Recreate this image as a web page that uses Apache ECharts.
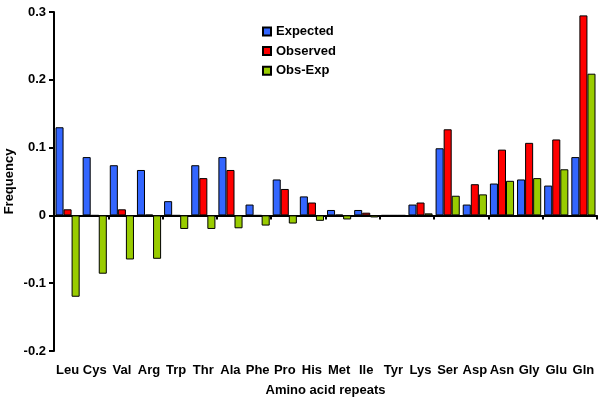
<!DOCTYPE html>
<html>
<head>
<meta charset="utf-8">
<script src="https://cdn.jsdelivr.net/npm/echarts@6/dist/echarts.min.js"></script>
<style>html,body{margin:0;padding:0;background:#fff;}#c{width:600px;height:402px;}</style>
</head>
<body>
<div id="c"></div>
<script>
var categories = ['Leu','Cys','Val','Arg','Trp','Thr','Ala','Phe','Pro','His','Met','Ile','Tyr','Lys','Ser','Asp','Asn','Gly','Glu','Gln'];
var expected = [0.130,0.086,0.074,0.067,0.021,0.074,0.086,0.016,0.053,0.028,0.008,0.008,0.000,0.016,0.099,0.016,0.047,0.053,0.044,0.086];
var observed = [0.009,0.000,0.009,0.001,0.000,0.055,0.067,0.000,0.039,0.019,0.001,0.004,0.000,0.019,0.127,0.046,0.097,0.107,0.112,0.295];
var obsExp   = [-0.120,-0.086,-0.065,-0.064,-0.020,-0.020,-0.019,-0.015,-0.012,-0.008,-0.006,-0.003,0.000,0.003,0.029,0.031,0.051,0.055,0.068,0.209];
var yTicks = {min:-0.2, max:0.3, interval:0.1};

var FONT = "'Liberation Sans', Arial, sans-serif";
var chart = echarts.init(document.getElementById('c'), null, {renderer:'canvas'});
function bar(name, data, color){
  return {name:name, type:'bar', data:data, xAxisIndex:0, yAxisIndex:0,
    barGap:'0%', barCategoryGap:'11%',
    itemStyle:{color:color, borderColor:'#000', borderWidth:1},
    emphasis:{disabled:true}};
}
chart.setOption({
  animation:false,
  backgroundColor:'#fff',
  grid:{left:54, right:3, top:12, bottom:51, containLabel:false, outerBoundsMode:'none'},
  legend:{orient:'vertical', left:257, top:20, itemWidth:8, itemHeight:8, itemGap:6.6,
    icon:'rect', selectedMode:false,
    textStyle:{fontFamily:FONT, fontWeight:'bold', fontSize:13, color:'#000'},
    data:['Expected','Observed','Obs-Exp']},
  xAxis:[
    {type:'category', data:categories, position:'bottom',
     axisLine:{onZero:true, lineStyle:{color:'#000', width:2}},
     axisTick:{show:true, length:4, lineStyle:{color:'#000', width:2}},
     axisLabel:{show:false}, splitLine:{show:false}},
    {type:'category', data:categories, position:'bottom', gridIndex:0,
     axisLine:{show:false, onZero:false}, axisTick:{show:false},
     axisLabel:{show:true, margin:13, fontFamily:FONT, fontWeight:'bold', fontSize:13, color:'#000', interval:0},
     name:'Amino acid repeats', nameLocation:'middle', nameGap:33, nameMoveOverlap:false,
     nameTextStyle:{fontFamily:FONT, fontWeight:'bold', fontSize:13, color:'#000'},
     splitLine:{show:false}}
  ],
  yAxis:{type:'value', min:yTicks.min, max:yTicks.max, interval:yTicks.interval,
    axisLine:{show:true, onZero:false, lineStyle:{color:'#000', width:2}},
    axisTick:{show:true, inside:false, length:5, lineStyle:{color:'#000', width:2}},
    axisLabel:{margin:8, fontFamily:FONT, fontWeight:'bold', fontSize:13, color:'#000',
      formatter:function(v){ return (Math.round(v*10)/10).toString(); }},
    splitLine:{show:false},
    name:'Frequency', nameLocation:'middle', nameGap:38, nameMoveOverlap:false,
    nameTextStyle:{fontFamily:FONT, fontWeight:'bold', fontSize:13, color:'#000'}},
  series:[
    bar('Expected', expected, '#3366FF'),
    bar('Observed', observed, '#FF0000'),
    bar('Obs-Exp', obsExp, '#99CC00')
  ]
});
</script>
</body>
</html>
